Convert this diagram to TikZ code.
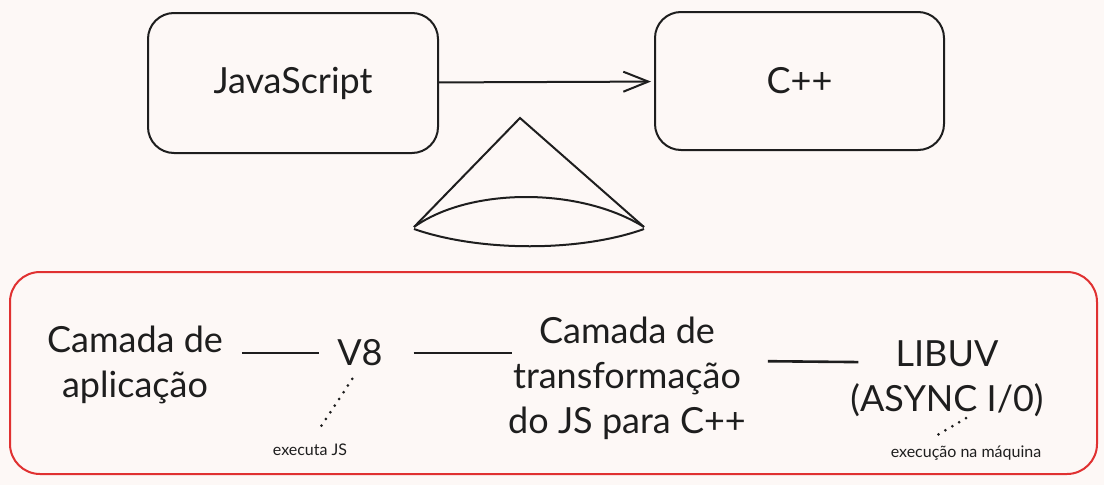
\documentclass[tikz,border=0pt]{standalone}
\usepackage{fontspec}
\setmainfont{Lato}
\usetikzlibrary{arrows.meta}
\definecolor{paper}{RGB}{253,248,246}
\definecolor{ink}{RGB}{30,30,30}
\definecolor{framered}{RGB}{224,49,49}

\begin{document}
\begin{tikzpicture}[x=1pt, y=-1pt, line width=2pt, color=ink,
  box/.style={draw, rounded corners=26pt, font=\fontsize{36}{45}\selectfont},
  big/.style={align=center, inner sep=0pt, font=\fontsize{36}{45}\selectfont},
  small/.style={inner sep=0pt, font=\fontsize{16}{20}\selectfont},
  link/.style={line width=2.6pt},
  dots/.style={line width=3pt, line cap=round, dash pattern=on 0pt off 8pt}]
	\fill[paper] (0,0) rectangle (1104,485);
	\node[box, minimum width=290pt, minimum height=140pt] (js) at (293,83) {JavaScript};
	\node[box, minimum width=289pt, minimum height=138pt] (cpp) at (799.5,81) {C++};
	\draw[-{Straight Barb[length=25pt,width=20pt]}, shorten >=3pt] (js) -- (cpp);
	\draw (414,227) -- (520,118) -- (644,227);
	\draw (414,227) .. controls (470,187) and (580,187) .. (644,227);
	\draw (414,229) .. controls (480,252) and (580,252) .. (644,229);
	\draw[framered, rounded corners=30pt] (10,272) rectangle (1097,474);
	\node[big] (app) at (135,365) {Camada de\\aplicação};
	\node[big] (v8) at (360,353) {V8};
	\node[big] (transform) at (627,378) {Camada de\\transformação\\do JS para C++};
	\node[big] (libuv) at (947,379) {LIBUV\\(ASYNC I/0)};
	\node[small] (execjs) at (310,450) {executa JS};
	\node[small] (execmaq) at (966,453) {execução na máquina};
	\draw[link, shorten <=18pt, shorten >=17pt] (app.east |- v8.west) -- (v8.west);
	\draw[link, shorten <=30pt, shorten >=-5pt] (v8.east) -- (v8.east -| transform.west);
	\draw[link, shorten <=21pt, shorten >=-9pt] ([yshift=17pt]transform.east) -- ([yshift=17pt]libuv.west);
	\draw[dots, shorten <=14pt, shorten >=20pt] (v8.south) -- (execjs.north);
	\draw[dots] ([xshift=19pt]libuv.south) -- ([xshift=-33pt,yshift=7pt]execmaq.north);
\end{tikzpicture}
\end{document}
